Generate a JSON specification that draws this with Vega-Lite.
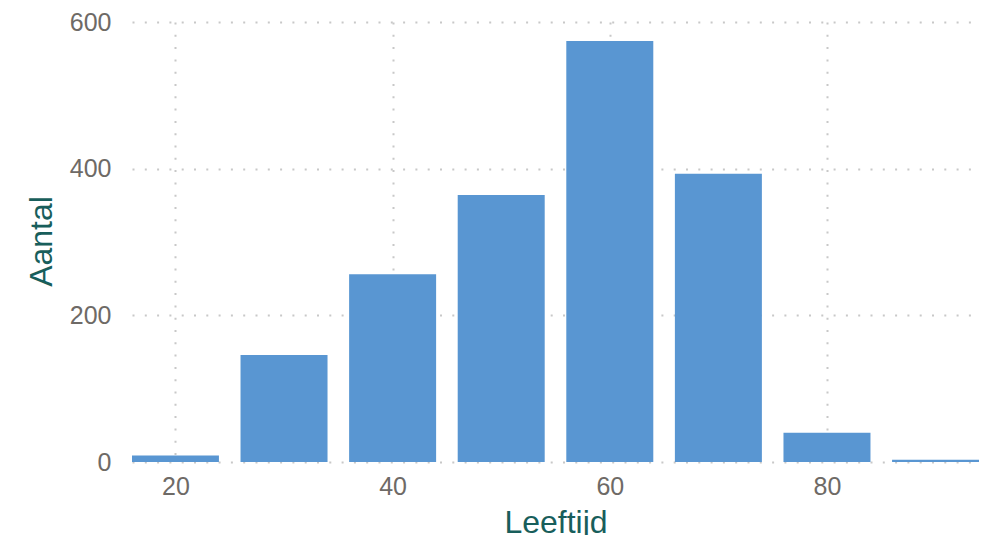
{
  "$schema": "https://vega.github.io/schema/vega-lite/v6.json",
  "autosize": {"type": "none"},
  "padding": {"left": 132, "top": 22, "right": 8, "bottom": 73},
  "width": 847,
  "height": 440,
  "background": "white",
  "data": {
    "values": [
      {"Leeftijd": 20, "Aantal": 9},
      {"Leeftijd": 30, "Aantal": 146},
      {"Leeftijd": 40, "Aantal": 256},
      {"Leeftijd": 50, "Aantal": 364},
      {"Leeftijd": 60, "Aantal": 574},
      {"Leeftijd": 70, "Aantal": 393},
      {"Leeftijd": 80, "Aantal": 40},
      {"Leeftijd": 90, "Aantal": 3}
    ]
  },
  "mark": {"type": "bar", "width": 87, "color": "#5996d2", "clip": true},
  "encoding": {
    "x": {
      "field": "Leeftijd",
      "type": "quantitative",
      "scale": {"domain": [16, 94], "nice": false, "zero": false, "padding": 0},
      "axis": {
        "title": "Leeftijd",
        "values": [20, 40, 60, 80],
        "domain": false,
        "ticks": false,
        "labelPadding": 12,
        "labelFontSize": 25,
        "labelColor": "#6e6a66",
        "labelFont": "Liberation Sans",
        "grid": true,
        "gridColor": "#c8c8c8",
        "gridDash": [2, 10.3],
        "gridWidth": 2,
        "titleFont": "Liberation Sans",
        "titleFontSize": 32,
        "titleFontWeight": "normal",
        "titleColor": "#185e5b",
        "titleBaseline": "alphabetic",
        "titleY": 70,
        "titleX": 423.5
      }
    },
    "y": {
      "field": "Aantal",
      "type": "quantitative",
      "scale": {"domain": [0, 600], "nice": false, "padding": 0},
      "axis": {
        "title": "Aantal",
        "values": [0, 200, 400, 600],
        "domain": false,
        "ticks": false,
        "labelPadding": 21,
        "labelFontSize": 25,
        "labelColor": "#6e6a66",
        "labelFont": "Liberation Sans",
        "grid": true,
        "gridColor": "#c8c8c8",
        "gridDash": [2, 10.3],
        "gridWidth": 2,
        "titleFont": "Liberation Sans",
        "titleFontSize": 32,
        "titleFontWeight": "normal",
        "titleColor": "#185e5b",
        "titleAngle": -90,
        "titleBaseline": "alphabetic",
        "titleAlign": "center",
        "titleX": -81,
        "titleY": 219
      }
    }
  },
  "config": {"view": {"stroke": null}}
}
